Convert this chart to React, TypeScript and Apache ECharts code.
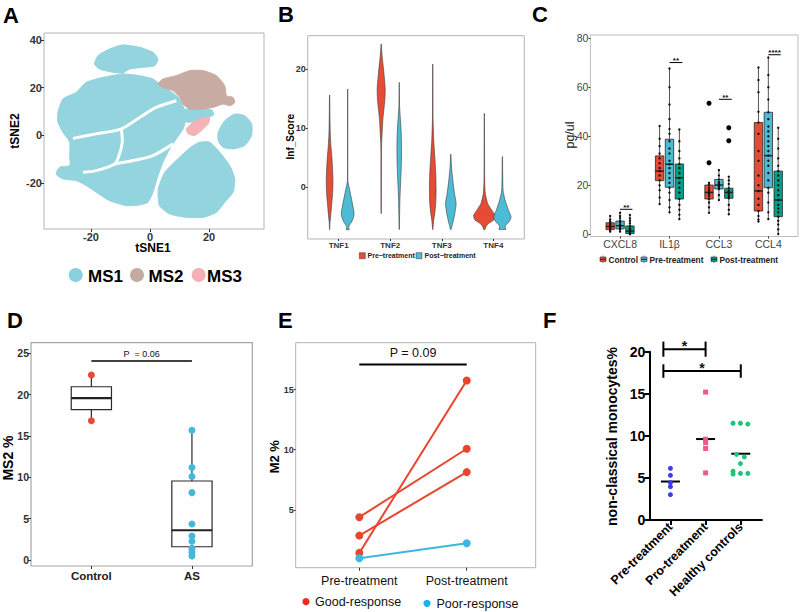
import React, { useEffect, useRef } from "react";
import * as echarts from "echarts";

const FONT = "'Liberation Sans', Arial, Helvetica, sans-serif";

// ---------------- Panel A: tSNE cluster outlines (tSNE coordinates) ----------------
const ms1Top = [[-18.8, 29.9], [-17.6, 33.4], [-13.7, 36.2], [-9.2, 37.9], [-3.5, 36.9], [1.0, 34.8], [2.7, 32.0], [1.6, 29.2], [-2.4, 28.5], [-6.9, 27.8], [-9.2, 26.1], [-13.7, 26.7], [-17.1, 27.8]];
const ms1Main = [[-31.2, 9.6], [-29.5, 15.2], [-25.0, 18.0], [-21.6, 22.2], [-15.9, 24.3], [-9.2, 25.7], [-3.5, 25.0], [1.0, 23.6], [3.3, 21.5], [6.7, 18.7], [10.1, 15.2], [12.3, 8.2], [11.2, 2.7], [8.9, -1.5], [6.7, -5.7], [4.4, -11.3], [2.7, -16.9], [1.0, -23.9], [-0.7, -28.1], [-3.5, -29.2], [-8.0, -29.5], [-13.7, -27.4], [-18.2, -23.9], [-21.6, -21.1], [-25.0, -19.0], [-29.5, -18.3], [-31.8, -16.2], [-30.6, -13.4], [-27.2, -12.7], [-27.2, -8.5], [-27.2, -2.9], [-29.5, 1.3], [-31.2, 5.5]];
const ms1LowerRight = [[3.2, -29.5], [2.8, -22.5], [5.0, -15.5], [9.4, -9.9], [13.6, -5.2], [16.8, -2.9], [20.2, -2.9], [23.6, -7.1], [27.0, -12.7], [28.7, -18.3], [28.1, -23.9], [25.3, -28.1], [22.5, -32.3], [18.0, -34.4], [12.3, -34.4], [6.7, -33.0]];
const ms1Right = [[23.1, 1.3], [25.3, 6.1], [28.7, 8.9], [32.1, 8.2], [34.4, 4.8], [34.4, -0.1], [32.1, -4.3], [28.1, -5.7], [24.7, -5.0], [23.1, -2.2]];
const ms1Bridge = [[11.5, 10.5], [16, 11.5], [21, 10.5], [21.5, 8.5], [17, 6.5], [12.5, 5.5]];
const ms2Region = [[2.7, 21.5], [4.4, 23.6], [8.9, 25.0], [13.4, 27.1], [18.0, 27.1], [22.5, 25.0], [25.3, 20.8], [25.9, 16.6], [28.1, 15.9], [28.7, 13.8], [27.0, 12.4], [24.7, 13.1], [21.4, 11.7], [16.8, 11.0], [13.4, 11.0], [11.2, 13.1], [10.1, 15.9], [7.8, 18.7], [4.4, 20.1]];
const ms3Region = [[12.3, 2.7], [14.6, 5.5], [17.4, 7.1], [20.2, 7.5], [19.7, 4.8], [17.4, 2.0], [15.1, -0.1], [12.9, 0.6]];
const tsneGaps = [
  [[-26.1, -1.3], [-18.2, 0.6], [-9.7, 2.7], [-3.5, 7.5], [2.1, 11.7], [8.9, 14.5]],
  [[-9.7, 2.7], [-9.4, -2.9], [-10.5, -8.5], [-12.0, -12.0], [-18.2, -14.8], [-22.7, -15.5]],
  [[-12.0, -12.0], [-5.8, -10.6], [1.0, -8.5], [7.8, -3.6]],
];
const tsneTicksX = [-20, 0, 20];
const tsneTicksY = [-20, 0, 20, 40];
const tsneLegend = ["MS1", "MS2", "MS3"];

// ---------------- Panel B: violins (y = Inf_Score, half width in category units) ----------------
const violinCategories = ["TNF1", "TNF2", "TNF3", "TNF4"];
const violinTicksY = [0, 10, 20];
const preViolinY = [
  [15.6, 12, 9, 7, 5, 3, 1, -1, -3, -5, -6, -7.1],
  [24.2, 22.1, 20.5, 18.2, 16.5, 14.8, 13.1, 11.4, 9.2, 6.9, -4.4],
  [20.8, 11.4, 8, 5.2, 2.4, -0.5, -2.7, -4.4, -5.5, -7.1],
  [12.5, 1.2, -1, -2.7, -3.8, -4.7, -5.5, -6.1, -6.7, -7.1],
];
const preViolinHalfWidth = [
  [0.002, 0.0065, 0.013, 0.026, 0.045, 0.058, 0.065, 0.058, 0.039, 0.019, 0.0065, 0.002],
  [0.002, 0.019, 0.039, 0.065, 0.078, 0.071, 0.052, 0.032, 0.019, 0.0065, 0.002],
  [0.002, 0.0065, 0.019, 0.039, 0.058, 0.065, 0.058, 0.039, 0.019, 0.002],
  [0.002, 0.0065, 0.019, 0.065, 0.142, 0.207, 0.181, 0.078, 0.026, 0.013],
];
const postViolinY = [
  [16.6, 1.2, 0.1, -2.1, -3.8, -4.7, -5.8, -6.4, -6.8, -7.1],
  [17.7, 13.7, 12, 9.2, 6.3, 3.5, 0.7, -2.1, -5, -7.1],
  [5.6, 3.5, 1.2, -1, -2.7, -4.4, -5.5, -6.4, -7.1],
  [5.2, -0.5, -2.1, -3.8, -5.0, -5.8, -6.5, -7.0, -7.1],
];
const postViolinHalfWidth = [
  [0.002, 0.003, 0.026, 0.078, 0.116, 0.123, 0.078, 0.032, 0.019, 0.032],
  [0.002, 0.0065, 0.019, 0.039, 0.045, 0.039, 0.026, 0.013, 0.0065, 0.002],
  [0.002, 0.013, 0.039, 0.071, 0.103, 0.078, 0.052, 0.026, 0.0065],
  [0.002, 0.013, 0.052, 0.116, 0.168, 0.129, 0.052, 0.065, 0.065],
];
const violinLegend = ["Pre\u2212treatment", "Post\u2212treatment"];

// ---------------- Panel C: cytokine boxes [low, q1, median, q3, high] ----------------
const cytoCategories = ["CXCL8", "IL1\u03b2", "CCL3", "CCL4"];
const cytoTicksY = [0, 20, 40, 60, 80];
const cytoGroups = ["Control", "Pre-treatment", "Post-treatment"];
const controlBox = [[1.1, 1.9, 3.2, 4.7, 7.5], [12.4, 21.9, 25.8, 32.0, 44.2], [8.8, 14.4, 17.1, 20.1, 21.0], [5.2, 9.5, 17.7, 45.6, 68.1]];
const preBox = [[1.1, 2.2, 3.5, 5.4, 8.8], [9.0, 19.2, 28.6, 38.8, 67.7], [14.0, 18.5, 20.1, 22.4, 26.2], [6.2, 19.0, 32.1, 49.8, 72.2]];
const postBox = [[0, 0.3, 1.3, 3.4, 7.9], [6.2, 14.4, 23.1, 28.7, 42.8], [8.2, 14.7, 17.1, 18.8, 23.5], [0.1, 7.2, 14.0, 25.8, 43.5]];
const controlPts = [
  [1.1, 1.8, 2.3, 2.8, 3.2, 3.5, 4.0, 4.5, 5.2, 6.0, 7.5],
  [12.4, 15, 18, 20, 22, 24, 25.8, 27, 29, 31, 33, 36, 39, 44.2],
  [8.8, 11, 13, 14.4, 15.5, 16.5, 17.1, 18, 19, 20.1, 21],
  [5.2, 6, 7.5, 9.5, 12, 14.5, 17.7, 20, 24, 30, 34, 41, 45.6, 50, 58, 63, 68.1],
];
const prePts = [
  [1.1, 2.0, 2.5, 3.0, 3.5, 4.0, 4.8, 5.4, 6.5, 7.5, 8.8],
  [9.0, 11, 14, 17, 19, 21, 23, 25, 27, 28.6, 30, 33, 35, 38, 41, 43, 47, 53, 60, 67.7],
  [14, 16, 18.5, 19.2, 19.8, 20.1, 20.6, 21.3, 22.4, 24, 26.2],
  [6.2, 9, 13, 17, 19, 22, 25, 28, 30, 32.1, 34, 36, 38, 40, 42, 44, 47, 49.8, 55, 60, 65, 72.2],
];
const postPts = [
  [0, 0.3, 0.6, 1.0, 1.3, 1.8, 2.5, 3.4, 4.5, 5.5, 6.5, 7.9],
  [6.2, 8, 10, 12, 14.4, 17, 19, 21, 23, 25, 27, 28.7, 31, 34, 38, 42.8],
  [8.2, 10, 12, 14.7, 15.5, 16.5, 17.1, 17.8, 18.8, 20.5, 22, 23.5],
  [0.1, 2, 4, 5.5, 7.2, 9, 10.5, 12, 14, 16, 18, 20, 22, 24, 25.8, 28, 31, 35, 39, 43.5],
];
const controlOutliers = [[], [], [29.2, 53.5], []];
const postOutliers = [[], [], [38.2, 43.5], []];
const cytoSigBars = [[1.0, 1.25, 10.2], [2.0, 2.26, 70.1], [3.0, 3.26, 55.1], [4.0, 4.25, 73.3]];
const cytoSigLabels = ["**", "**", "**", "****"];

// ---------------- Panel D: MS2 % ----------------
const ms2Groups = ["Control", "AS"];
const ms2TicksY = [0, 5, 10, 15, 20, 25];
const ms2ControlPts = [22.4, 16.85];
const ms2ASPts = [15.7, 11.2, 10.1, 8.15, 4.35, 2.9, 2.26, 1.4, 0.93, 0.48];
const ms2Boxes = [[16.85, 18.2, 19.6, 20.97, 22.4], [0.48, 1.6, 3.6, 9.56, 15.7]];
const ms2Sig = [[1, 2, 24.07]];
const ms2SigLabels = ["P  = 0.06"];

// ---------------- Panel E: M2 % paired ----------------
const m2Times = ["Pre-treatment", "Post-treatment"];
const m2TicksY = [5, 10, 15];
const goodPre = [4.39, 2.86, 1.42];
const goodPost = [10.08, 8.14, 15.75];
const poorPre = [0.97];
const poorPost = [2.22];
const m2Sig = [[1, 2, 17.08]];
const m2SigLabels = ["P = 0.09"];
const m2Legend = ["Good-response", "Poor-response"];

// ---------------- Panel F: non-classical monocytes ----------------
const ncGroups = ["Pre-treatment", "Pro-treatment", "Healthy controls"];
const ncTicksY = [0, 5, 10, 15, 20];
const ncPre = [[1, 6.14], [1, 5.31], [1, 4.44], [1, 3.96], [1, 3.01]];
const ncPro = [[2, 15.2], [2, 9.6], [2, 9.2], [2, 8.5], [2, 5.6]];
const ncHealthy = [[2.78, 11.5], [2.99, 11.5], [3.2, 11.4], [2.88, 7.8], [3.1, 7.5], [2.99, 6.7], [2.78, 5.8], [2.78, 5.47], [2.99, 5.54], [3.2, 5.54]];
const ncSig = [[0.8, 2.0, 20.3, 0.9], [0.8, 3.0, 17.7, 0.8]];
const ncSigLabels = ["*", "*"];

// ---------------- helpers ----------------
const RED = "#E64B35";
const BLUE = "#4DBBD5";
const GREEN = "#00A087";

function valAxis(o: any) {
  return {
    type: "value",
    gridIndex: o.grid,
    min: o.min,
    max: o.max,
    splitLine: { show: false },
    axisLine: { show: !!o.axisLine, onZero: false, lineStyle: { color: o.lineColor ?? "#000", width: o.lineWidth ?? 1 } },
    axisTick: { show: true, customValues: o.ticks, length: o.tickLen ?? 3, lineStyle: { color: o.tickColor ?? "#333", width: o.tickWidth ?? 1 } },
    axisLabel: {
      customValues: o.ticks,
      formatter: o.fmt ?? ((v: number) => String(v)),
      fontSize: o.font,
      fontWeight: o.weight ?? "bold",
      color: o.color ?? "#333",
      fontFamily: FONT,
      margin: o.margin ?? 2,
      rotate: o.rotate ?? 0,
    },
  };
}

function polySeries(gi: number, polys: number[][][], fill: string) {
  return {
    type: "custom",
    xAxisIndex: gi,
    yAxisIndex: gi,
    silent: true,
    data: polys.map((_, i) => [i]),
    renderItem: (params: any, api: any) => {
      const pts = polys[params.dataIndex].map((p) => api.coord(p));
      return { type: "polygon", shape: { points: pts, smooth: 0.2 }, style: { fill, stroke: fill, lineWidth: 1 } };
    },
  };
}

function gapSeries(gi: number, lines: number[][][]) {
  return {
    type: "custom",
    xAxisIndex: gi,
    yAxisIndex: gi,
    silent: true,
    data: lines.map((_, i) => [i]),
    renderItem: (params: any, api: any) => {
      const pts = lines[params.dataIndex].map((p) => api.coord(p));
      return { type: "polyline", shape: { points: pts, smooth: 0.3 }, style: { fill: "none", stroke: "#ffffff", lineWidth: 3 } };
    },
  };
}

function violinSeries(ys: number[][], ws: number[][], offset: number, fill: string) {
  return {
    type: "custom",
    xAxisIndex: 1,
    yAxisIndex: 1,
    silent: true,
    data: violinCategories.map((_, i) => [i + 1 + offset]),
    renderItem: (params: any, api: any) => {
      const i = params.dataIndex;
      const cx = api.value(0);
      const right = ys[i].map((y, k) => api.coord([cx + ws[i][k], y]));
      const left = ys[i].map((y, k) => api.coord([cx - ws[i][k], y])).reverse();
      return { type: "polygon", shape: { points: right.concat(left), smooth: 0.2 }, style: { fill, stroke: "#3a3a3a", lineWidth: 0.6 } };
    },
  };
}

function boxSeries(gi: number, stats: number[][], offset: number, fill: string, halfW: number, lw: number) {
  return {
    type: "custom",
    xAxisIndex: gi,
    yAxisIndex: gi,
    silent: true,
    data: stats.map((s, i) => [i + 1 + offset, ...s]),
    renderItem: (params: any, api: any) => {
      const x = api.value(0);
      const lo = api.coord([x, api.value(1)]);
      const q1 = api.coord([x, api.value(2)]);
      const md = api.coord([x, api.value(3)]);
      const q3 = api.coord([x, api.value(4)]);
      const hi = api.coord([x, api.value(5)]);
      const l = api.coord([x - halfW, 0])[0];
      const r = api.coord([x + halfW, 0])[0];
      return {
        type: "group",
        children: [
          { type: "line", shape: { x1: lo[0], y1: lo[1], x2: hi[0], y2: hi[1] }, style: { stroke: "#2a2a2a", lineWidth: lw } },
          { type: "rect", shape: { x: l, y: q3[1], width: r - l, height: q1[1] - q3[1] }, style: { fill, stroke: "#2a2a2a", lineWidth: lw } },
          { type: "line", shape: { x1: l, y1: md[1], x2: r, y2: md[1] }, style: { stroke: "#222", lineWidth: lw * 1.8 } },
        ],
      };
    },
  };
}

function sigSeries(gi: number, bars: number[][], labels: string[], st: any) {
  return {
    type: "custom",
    xAxisIndex: gi,
    yAxisIndex: gi,
    silent: true,
    clip: false,
    data: bars,
    renderItem: (params: any, api: any) => {
      const x1 = api.value(0), x2 = api.value(1), y = api.value(2);
      const p1 = api.coord([x1, y]);
      const p2 = api.coord([x2, y]);
      const children: any[] = [
        { type: "line", shape: { x1: p1[0], y1: p1[1], x2: p2[0], y2: p2[1] }, style: { stroke: "#000", lineWidth: st.lw } },
        {
          type: "text",
          x: (p1[0] + p2[0]) / 2,
          y: p1[1] + st.dy,
          style: { text: labels[params.dataIndex], fontSize: st.fs, fontWeight: st.fw ?? "normal", fontFamily: FONT, fill: "#111", align: "center", verticalAlign: "middle" },
        },
      ];
      if (st.caps) {
        const cap = api.value(3);
        [x1, x2].forEach((xx) => {
          const a = api.coord([xx, y - cap]);
          const b = api.coord([xx, y + cap]);
          children.push({ type: "line", shape: { x1: a[0], y1: a[1], x2: b[0], y2: b[1] }, style: { stroke: "#000", lineWidth: st.lw } });
        });
      }
      return { type: "group", children };
    },
  };
}

function dots(gi: number, data: number[][], color: string, size: number, symbol = "circle") {
  return { type: "scatter", xAxisIndex: gi, yAxisIndex: gi, silent: true, symbol, symbolSize: size, itemStyle: { color, opacity: 1 }, data };
}

const mean = (a: number[]) => a.reduce((s, v) => s + v, 0) / a.length;

function txt(text: string, x: number, y: number, size: number, weight: string, o: any = {}) {
  return {
    type: "text",
    x,
    y,
    silent: true,
    rotation: o.rot ?? 0,
    style: { text, fontSize: size, fontWeight: weight, fontFamily: FONT, fill: o.fill ?? "#000", align: o.align ?? "left", verticalAlign: "middle" },
  };
}

function buildOption() {
  const grids = [
    { left: 44, top: 33, width: 220, height: 196, show: true, borderColor: "#b3b3b3", borderWidth: 1 },
    { left: 307.7, top: 35.7, width: 216.6, height: 203.3, show: true, borderColor: "#b3b3b3", borderWidth: 1 },
    { left: 590.4, top: 35, width: 207.6, height: 201.5, show: true, borderColor: "#bdbdbd", borderWidth: 1 },
    { left: 31, top: 342.7, width: 221.3, height: 223.3, show: true, borderColor: "#a6a6a6", borderWidth: 1.2 },
    { left: 295.7, top: 342.7, width: 240, height: 225, show: true, borderColor: "#b3b3b3", borderWidth: 1 },
    { left: 649.3, top: 351.7, width: 112.6, height: 168.3, show: false },
  ].map((g) => ({ ...g, containLabel: false, outerBoundsMode: "none" }));

  const xAxis = [
    valAxis({ grid: 0, min: -35.9, max: 38.6, ticks: tsneTicksX, font: 11, margin: 2 }),
    valAxis({ grid: 1, min: 0.4, max: 4.6, ticks: [1, 2, 3, 4], fmt: (v: number) => violinCategories[v - 1], font: 8, margin: 2, tickLen: 2 }),
    valAxis({ grid: 2, min: 0.4, max: 4.6, ticks: [1, 2, 3, 4], fmt: (v: number) => cytoCategories[v - 1], font: 10.5, weight: "normal", color: "#444", margin: 2, tickLen: 2 }),
    valAxis({ grid: 3, min: 0.4, max: 2.6, ticks: [1, 2], fmt: (v: number) => ms2Groups[v - 1], font: 11.5, color: "#222", margin: 3.5 }),
    valAxis({ grid: 4, min: 0.408, max: 2.642, ticks: [1, 2], fmt: (v: number) => m2Times[v - 1], font: 12.5, weight: "normal", color: "#111", margin: 7 }),
    valAxis({ grid: 5, min: 0.4, max: 3.6, ticks: [1, 2, 3], fmt: (v: number) => ncGroups[v - 1], font: 12.5, color: "#000", margin: 5, rotate: 45, axisLine: true, lineWidth: 2, tickLen: 5, tickWidth: 2, tickColor: "#000" }),
  ];
  const yAxis = [
    valAxis({ grid: 0, min: -39.3, max: 42.9, ticks: tsneTicksY, font: 11, margin: 2 }),
    valAxis({ grid: 1, min: -8.7, max: 25.6, ticks: violinTicksY, font: 9, margin: 2, tickLen: 2 }),
    valAxis({ grid: 2, min: -0.9, max: 81.35, ticks: cytoTicksY, font: 10.5, weight: "normal", color: "#444", margin: 2, tickLen: 2 }),
    valAxis({ grid: 3, min: -0.73, max: 26.3, ticks: ms2TicksY, font: 10.5, margin: 2 }),
    valAxis({ grid: 4, min: 0.19, max: 18.9, ticks: m2TicksY, font: 9, margin: 2, tickLen: 2 }),
    valAxis({ grid: 5, min: 0, max: 20, ticks: ncTicksY, font: 14, color: "#000", margin: 4, axisLine: true, lineWidth: 2, tickLen: 5, tickWidth: 2, tickColor: "#000" }),
  ];

  const offsets = [-0.2, 0, 0.2];
  const cBoxes = [controlBox, preBox, postBox];
  const cPts = [controlPts, prePts, postPts];
  const cCols = [RED, BLUE, GREEN];

  const series: any[] = [
    // A
    polySeries(0, [ms1Top, ms1Main, ms1LowerRight, ms1Right, ms1Bridge], "#93d4df"),
    gapSeries(0, tsneGaps),
    polySeries(0, [ms2Region], "#c8aba3"),
    polySeries(0, [ms3Region], "#f4b3b7"),
    // B
    violinSeries(preViolinY, preViolinHalfWidth, -0.175, RED),
    violinSeries(postViolinY, postViolinHalfWidth, 0.175, BLUE),
    // C
    ...cBoxes.map((b, g) => boxSeries(2, b, offsets[g], cCols[g], 0.085, 0.8)),
    ...cPts.map((p, g) => dots(2, p.flatMap((arr, i) => arr.map((v) => [i + 1 + offsets[g], v])), "#111", 2.4)),
    dots(2, controlOutliers.flatMap((arr, i) => arr.map((v) => [i + 1 + offsets[0], v])), "#000", 5),
    dots(2, postOutliers.flatMap((arr, i) => arr.map((v) => [i + 1 + offsets[2], v])), "#000", 5),
    sigSeries(2, cytoSigBars, cytoSigLabels, { lw: 1, fs: 8, fw: "bold", dy: -2 }),
    // D
    ...ms2Boxes.map((b, i) => boxSeries(3, [b], i, "#fff", 0.2, 1.2)),
    dots(3, ms2ControlPts.map((v) => [1, v]), RED, 7),
    dots(3, ms2ASPts.map((v) => [2, v]), "#45B7DA", 7),
    sigSeries(3, ms2Sig, ms2SigLabels, { lw: 1.5, fs: 9, dy: -7.5 }),
    // E
    ...goodPre.map((v, i) => ({
      type: "line", xAxisIndex: 4, yAxisIndex: 4, silent: true, symbol: "circle", symbolSize: 8,
      itemStyle: { color: "#E8452F" }, lineStyle: { color: "#E8452F", width: 2 },
      data: [[1, v], [2, goodPost[i]]],
    })),
    ...poorPre.map((v, i) => ({
      type: "line", xAxisIndex: 4, yAxisIndex: 4, silent: true, symbol: "circle", symbolSize: 8,
      itemStyle: { color: "#3DB7DF" }, lineStyle: { color: "#3DB7DF", width: 2 },
      data: [[1, v], [2, poorPost[i]]],
    })),
    sigSeries(4, m2Sig, m2SigLabels, { lw: 2, fs: 12.5, dy: -11.5 }),
    // F
    dots(5, ncPre, "#3B3BEF", 5),
    dots(5, ncPro, "#F0578F", 5, "rect"),
    dots(5, ncHealthy, "#22C27C", 5),
    {
      type: "custom", xAxisIndex: 5, yAxisIndex: 5, silent: true,
      data: [[1, mean(ncPre.map((p) => p[1]))], [2, mean(ncPro.map((p) => p[1]))], [3, mean(ncHealthy.map((p) => p[1]))]],
      renderItem: (params: any, api: any) => {
        const a = api.coord([api.value(0) - 0.27, api.value(1)]);
        const b = api.coord([api.value(0) + 0.27, api.value(1)]);
        return { type: "line", shape: { x1: a[0], y1: a[1], x2: b[0], y2: b[1] }, style: { stroke: "#000", lineWidth: 2 } };
      },
    },
    sigSeries(5, ncSig, ncSigLabels, { lw: 2, fs: 14, fw: "bold", dy: -3.5, caps: true }),
  ];

  const R = Math.PI / 2;
  const graphic: any[] = [
    // panel letters
    txt("A", 3, 15, 22, "bold"),
    txt("B", 278, 14, 22, "bold"),
    txt("C", 532, 14, 22, "bold"),
    txt("D", 7, 320, 22, "bold"),
    txt("E", 278, 320, 22, "bold"),
    txt("F", 543, 320, 22, "bold"),
    // axis titles
    txt("tSNE1", 153, 248, 12, "bold", { align: "center" }),
    txt("tSNE2", 15, 131, 12, "bold", { align: "center", rot: R }),
    txt("Inf_Score", 290.7, 136.7, 10, "bold", { align: "center", rot: R }),
    txt("pg/ul", 570, 135, 12.5, "normal", { align: "center", rot: R, fill: "#222" }),
    txt("MS2 %", 7.5, 458, 14, "bold", { align: "center", rot: R }),
    txt("M2 %", 274, 456.7, 13, "bold", { align: "center", rot: R }),
    txt("non-classical monocytes%", 612, 436.5, 14, "bold", { align: "center", rot: R }),
    // legend A
    { type: "circle", silent: true, shape: { cx: 75.7, cy: 275, r: 7 }, style: { fill: "#88d0db" } },
    { type: "circle", silent: true, shape: { cx: 137, cy: 275, r: 7 }, style: { fill: "#c6aaa2" } },
    { type: "circle", silent: true, shape: { cx: 198.7, cy: 275, r: 7 }, style: { fill: "#f4b0b3" } },
    txt(tsneLegend[0], 88, 276, 17, "bold"),
    txt(tsneLegend[1], 148.5, 276, 17, "bold"),
    txt(tsneLegend[2], 207, 276, 17, "bold"),
    // legend B
    { type: "rect", silent: true, shape: { x: 359.3, y: 252.7, width: 6, height: 6 }, style: { fill: RED, stroke: "#333", lineWidth: 0.5 } },
    { type: "rect", silent: true, shape: { x: 416, y: 252.7, width: 6, height: 6 }, style: { fill: BLUE, stroke: "#333", lineWidth: 0.5 } },
    txt(violinLegend[0], 367.5, 255.9, 7, "bold", { fill: "#222" }),
    txt(violinLegend[1], 424.5, 255.9, 7, "bold", { fill: "#222" }),
    // legend E
    { type: "circle", silent: true, shape: { cx: 306, cy: 601.7, r: 3.6 }, style: { fill: "#EE2A22" } },
    { type: "circle", silent: true, shape: { cx: 427, cy: 603.3, r: 3.6 }, style: { fill: "#19B2EA" } },
    txt(m2Legend[0], 315, 602, 12.5, "normal", { fill: "#111" }),
    txt(m2Legend[1], 436.5, 603.5, 12.5, "normal", { fill: "#111" }),
  ];
  // legend C (box icons)
  const cLegX = [600, 641, 711];
  const cTextX = [608.5, 649.5, 719.5];
  cytoGroups.forEach((g, i) => {
    graphic.push({ type: "line", silent: true, shape: { x1: cLegX[i] + 3, y1: 255.5, x2: cLegX[i] + 3, y2: 263 }, style: { stroke: "#333", lineWidth: 0.6 } });
    graphic.push({ type: "rect", silent: true, shape: { x: cLegX[i], y: 257, width: 6, height: 4.6 }, style: { fill: cCols[i], stroke: "#333", lineWidth: 0.6 } });
    graphic.push({ type: "line", silent: true, shape: { x1: cLegX[i], y1: 259.3, x2: cLegX[i] + 6, y2: 259.3 }, style: { stroke: "#222", lineWidth: 1 } });
    graphic.push(txt(g, cTextX[i], 259.5, 8.3, "bold", { fill: "#222" }));
  });

  return { animation: false, backgroundColor: "#fff", grid: grids, xAxis, yAxis, series, graphic };
}

export default function App() {
  const ref = useRef<HTMLDivElement>(null);
  useEffect(() => {
    document.body.style.margin = "0";
    const chart = echarts.init(ref.current!, null, { renderer: "svg" });
    chart.setOption(buildOption() as any);
    return () => chart.dispose();
  }, []);
  return <div ref={ref} style={{ width: 800, height: 612 }} />;
}
